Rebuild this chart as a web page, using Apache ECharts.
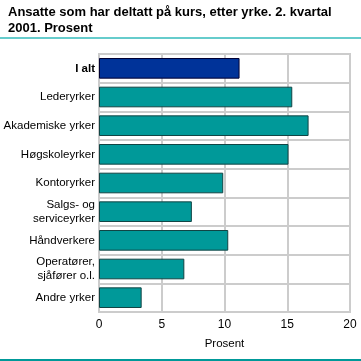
<!DOCTYPE html>
<html><head><meta charset="utf-8">
<script src="https://cdn.jsdelivr.net/npm/echarts@6/dist/echarts.min.js"></script>
<style>html,body{margin:0;padding:0;background:#fff}#c{width:361px;height:361px}</style>
</head><body><div id="c"></div>
<script>
const categories = ["I alt","Lederyrker","Akademiske yrker","Høgskoleyrker","Kontoryrker","Salgs- og\nserviceyrker","Håndverkere","Operatører,\nsjåfører o.l.","Andre yrker"];
const values = [11.2, 15.4, 16.7, 15.1, 9.9, 7.4, 10.3, 6.8, 3.4];
const xTicks = [0, 5, 10, 15, 20];
const titleText = "Ansatte som har deltatt på kurs, etter yrke. 2. kvartal\n2001. Prosent";
const xName = "Prosent";

const chart = echarts.init(document.getElementById('c'), null, {renderer:'canvas'});
const font = '"Liberation Sans", Arial, sans-serif';
chart.setOption({
  animation:false,
  title:{text:titleText,left:3,top:-1,textStyle:{fontFamily:font,fontSize:13,fontWeight:'bold',color:'#000',lineHeight:16}},
  graphic:[
    {type:'rect',shape:{x:0,y:37,width:361,height:2},style:{fill:'#66cccc'}},
    {type:'rect',shape:{x:0,y:359,width:361,height:2},style:{fill:'#009999'}}
  ],
  grid:{left:99,right:11,top:54,bottom:49,show:true,borderColor:'#cccccc',borderWidth:2},
  xAxis:{type:'value',min:0,max:20,interval:5,
    axisLine:{show:false},axisTick:{show:false},
    splitLine:{lineStyle:{color:'#cccccc',width:2}},
    axisLabel:{fontFamily:font,fontSize:12,color:'#000',margin:7},
    name:xName,nameLocation:'middle',nameGap:26,nameTextStyle:{fontFamily:font,fontSize:11.5,color:'#000'}},
  yAxis:{type:'category',data:categories,inverse:true,
    axisLine:{show:true,lineStyle:{color:'#cccccc',width:2}},axisTick:{show:false},
    splitLine:{show:true,lineStyle:{color:'#cccccc',width:2}},
    axisLabel:{fontFamily:font,fontSize:11.5,color:'#000',margin:4,lineHeight:14,
      formatter:function(v){return v==='I alt'?'{b|'+v+'}':v;},
      rich:{b:{fontFamily:font,fontSize:11.5,fontWeight:'bold',color:'#000'}}}},
  series:[{type:'bar',barCategoryGap:'28%',
    data:values.map((v,i)=>({value:v,itemStyle:i===0?{color:'#003399',borderColor:'#000033'}:{color:'#009999',borderColor:'#114444'}})),
    itemStyle:{borderWidth:1}}]
});
</script></body></html>
